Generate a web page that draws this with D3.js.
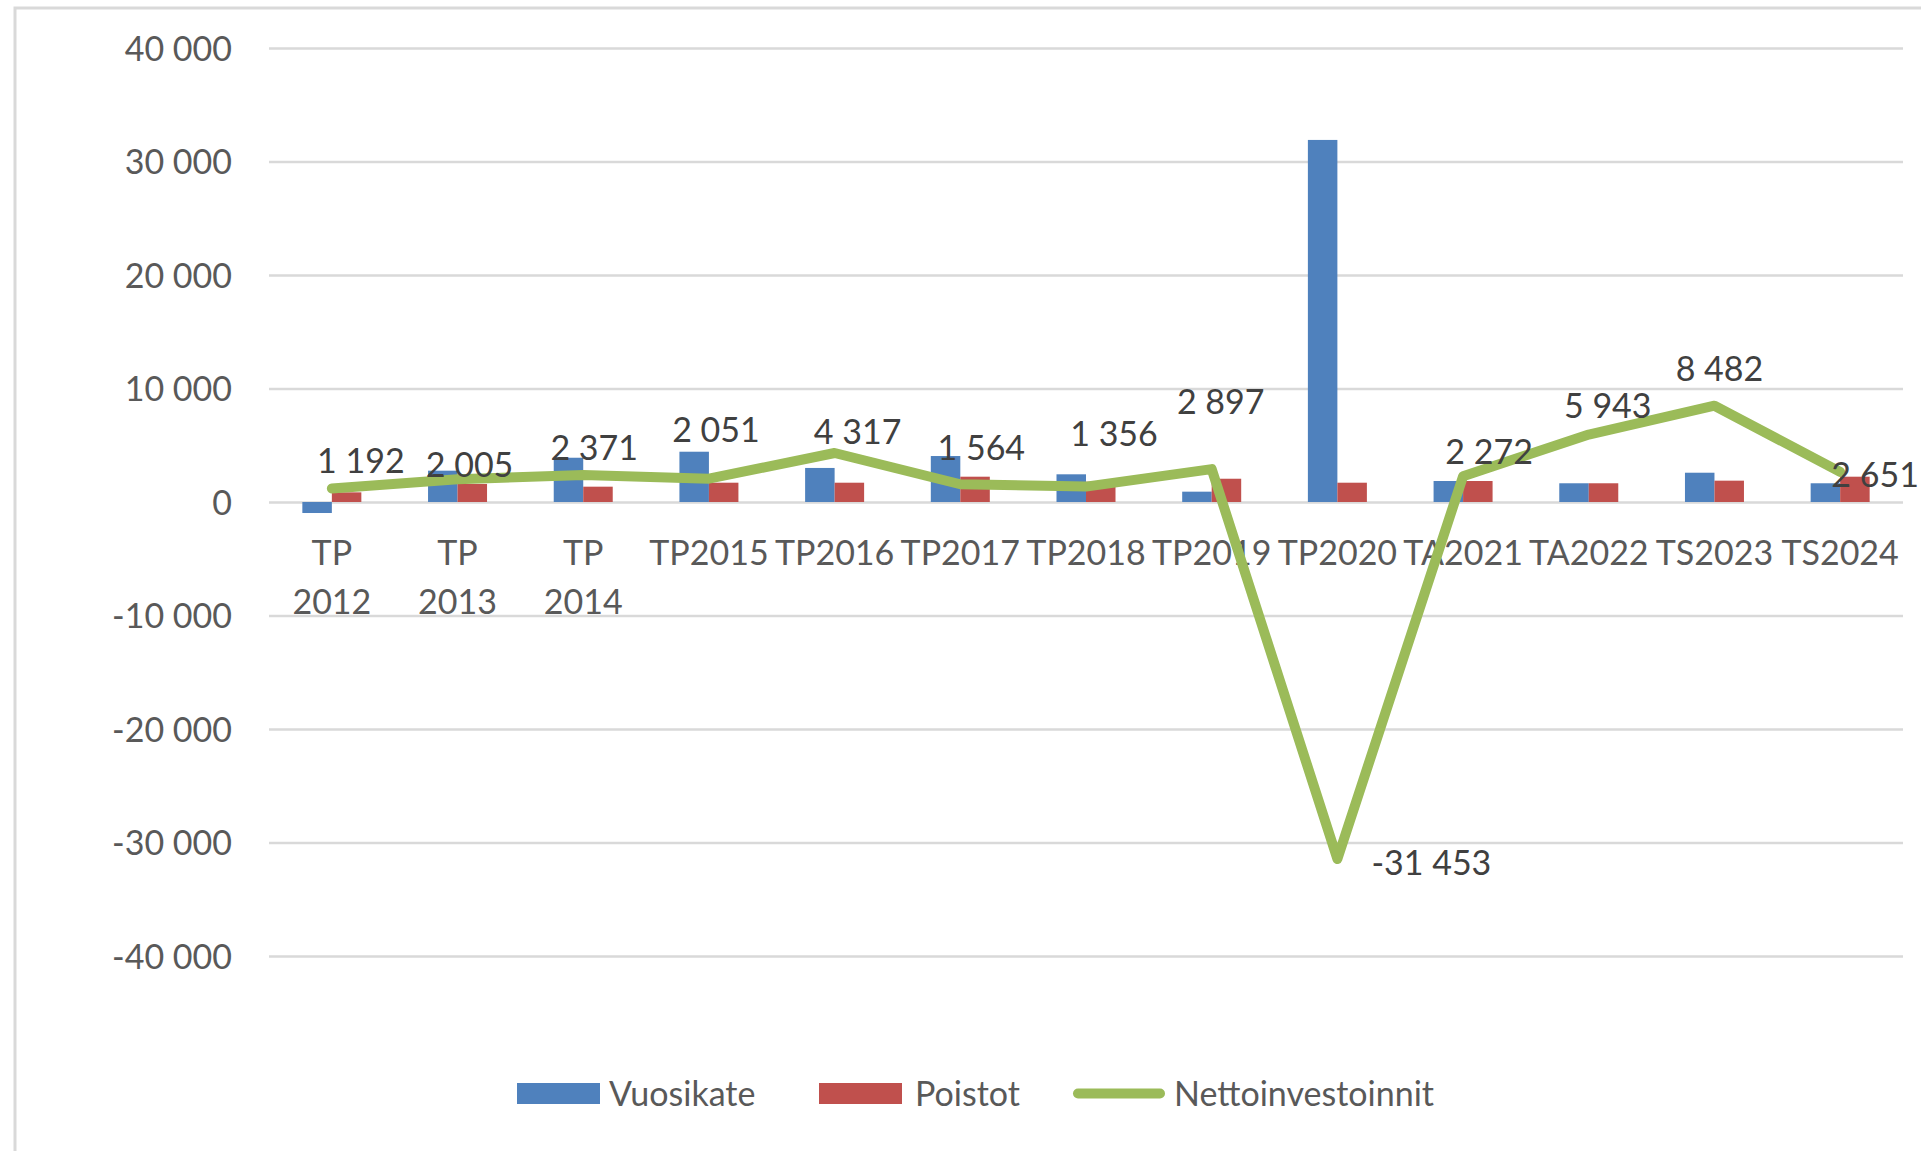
<!DOCTYPE html>
<html>
<head>
<meta charset="utf-8">
<script src="https://cdn.jsdelivr.net/npm/d3@7"></script>
<style>
  html, body { margin: 0; padding: 0; background: #fff; }
  svg { display: block; }
  text { font-family: Lato, "Open Sans", sans-serif; }
</style>
</head>
<body>
<svg id="chart" width="1921" height="1151"></svg>
<script>
// ---- data ----
const categories = ["TP 2012", "TP 2013", "TP 2014", "TP2015", "TP2016", "TP2017", "TP2018", "TP2019", "TP2020", "TA2021", "TA2022", "TS2023", "TS2024"];
const vuosikate = [-970, 2760, 3900, 4430, 3000, 4050, 2440, 910, 31900, 1850, 1650, 2580, 1650];
const poistot = [850, 1590, 1350, 1700, 1700, 2230, 1790, 2050, 1700, 1850, 1650, 1880, 2230];
const nettoinvestoinnit = [1192, 2005, 2371, 2051, 4317, 1564, 1356, 2897, -31453, 2272, 5943, 8482, 2651];
const yTicks = [-40000, -30000, -20000, -10000, 0, 10000, 20000, 30000, 40000];
const seriesNames = ["Vuosikate", "Poistot", "Nettoinvestoinnit"];

// ---- styling / layout ----
const colors = { Vuosikate: "#4F81BD", Poistot: "#C0504D", Nettoinvestoinnit: "#9BBB59" };
const fontSize = 34;
const axisColor = "#595959";
const labelColor = "#404040";
const gridColor = "#D9D9D9";
// manual data-label offsets (px) relative to the line point, as in the original
const labelOffsets = [[29,-28],[12,-14],[11,-27],[7,-49],[23,-21],[21,-36],[28,-53],[9,-67],[94,4],[26,-24],[19,-29],[5,-37],[35,3]];

const svg = d3.select("#chart");
const left = 269, right = 1903;

const fmtLocale = d3.formatLocale({ decimal: ",", thousands: "\u00a0", grouping: [3], currency: ["", " €"], minus: "-" });
const fmt = fmtLocale.format(",d");

const x = d3.scaleBand().domain(categories).range([left, right]).paddingInner(0).paddingOuter(0);
const y = d3.scaleLinear().domain([-40000, 40000]).range([956, 48]);

// chart frame
svg.append("rect").attr("x", 15).attr("y", 8).attr("width", 3000).attr("height", 3000)
  .attr("fill", "none").attr("stroke", gridColor).attr("stroke-width", 3);

// gridlines + y labels via axis
const yAxis = d3.axisLeft(y).tickValues(yTicks).tickSize(-(right - left)).tickPadding(36).tickFormat(fmt);
const gy = svg.append("g").attr("transform", `translate(${left},0)`).call(yAxis);
gy.select(".domain").remove();
gy.selectAll(".tick line").attr("stroke", gridColor).attr("stroke-width", 2.5);
gy.selectAll(".tick text").attr("fill", axisColor).attr("font-size", fontSize)
  .attr("font-family", "Lato, sans-serif").attr("dy", "0.36em").attr("x", 232 - left);

// bars
const bw = 29.5;
const cx = d => x(d) + x.bandwidth() / 2;
svg.append("g").selectAll("rect").data(categories).join("rect")
  .attr("x", d => cx(d) - bw)
  .attr("width", bw)
  .attr("y", (d, i) => y(Math.max(0, vuosikate[i])))
  .attr("height", (d, i) => Math.abs(y(vuosikate[i]) - y(0)))
  .attr("fill", colors.Vuosikate);
svg.append("g").selectAll("rect").data(categories).join("rect")
  .attr("x", d => cx(d))
  .attr("width", bw)
  .attr("y", (d, i) => y(Math.max(0, poistot[i])))
  .attr("height", (d, i) => Math.abs(y(poistot[i]) - y(0)))
  .attr("fill", colors.Poistot);

// category labels (x axis)
const xAxis = d3.axisBottom(x).tickSize(0).tickFormat("");
const gx = svg.append("g").attr("transform", `translate(0,${y(0)})`).call(xAxis);
gx.select(".domain").remove();
gx.selectAll(".tick").each(function(d) {
  const parts = d.split(" ");
  const t = d3.select(this).append("text").attr("fill", axisColor).attr("font-size", fontSize)
    .attr("text-anchor", "middle").attr("font-family", "Lato, sans-serif");
  parts.forEach((p, k) => {
    t.append("tspan").attr("x", 0).attr("y", 63 + k * 48.5).text(p);
  });
});

// line
const line = d3.line().x((d, i) => cx(categories[i])).y(d => y(d));
svg.append("path").datum(nettoinvestoinnit).attr("d", line)
  .attr("fill", "none").attr("stroke", colors.Nettoinvestoinnit).attr("stroke-width", 10)
  .attr("stroke-linejoin", "round").attr("stroke-linecap", "round");

// data labels
svg.append("g").selectAll("text").data(nettoinvestoinnit).join("text")
  .attr("x", (d, i) => cx(categories[i]) + labelOffsets[i][0])
  .attr("y", (d, i) => y(d) + labelOffsets[i][1])
  .attr("dy", "0.36em")
  .attr("text-anchor", "middle").attr("fill", labelColor).attr("font-size", fontSize)
  .text(d => fmt(d));

// legend
const legend = svg.append("g");
const legY = 1093.5;
const legItems = [
  { name: seriesNames[0], type: "rect", sx: 517, tx: 609 },
  { name: seriesNames[1], type: "rect", sx: 819, tx: 915 },
  { name: seriesNames[2], type: "line", sx: 1073, tx: 1174 }
];
legItems.forEach(it => {
  if (it.type === "rect") {
    legend.append("rect").attr("x", it.sx).attr("y", legY - 10.5).attr("width", 83).attr("height", 21)
      .attr("fill", colors[it.name]);
  } else {
    legend.append("line").attr("x1", it.sx + 5).attr("x2", it.sx + 87).attr("y1", legY).attr("y2", legY)
      .attr("stroke", colors[it.name]).attr("stroke-width", 10).attr("stroke-linecap", "round");
  }
  legend.append("text").attr("x", it.tx).attr("y", legY).attr("dy", "0.36em")
    .attr("fill", axisColor).attr("font-size", fontSize).text(it.name);
});
</script>
</body>
</html>
